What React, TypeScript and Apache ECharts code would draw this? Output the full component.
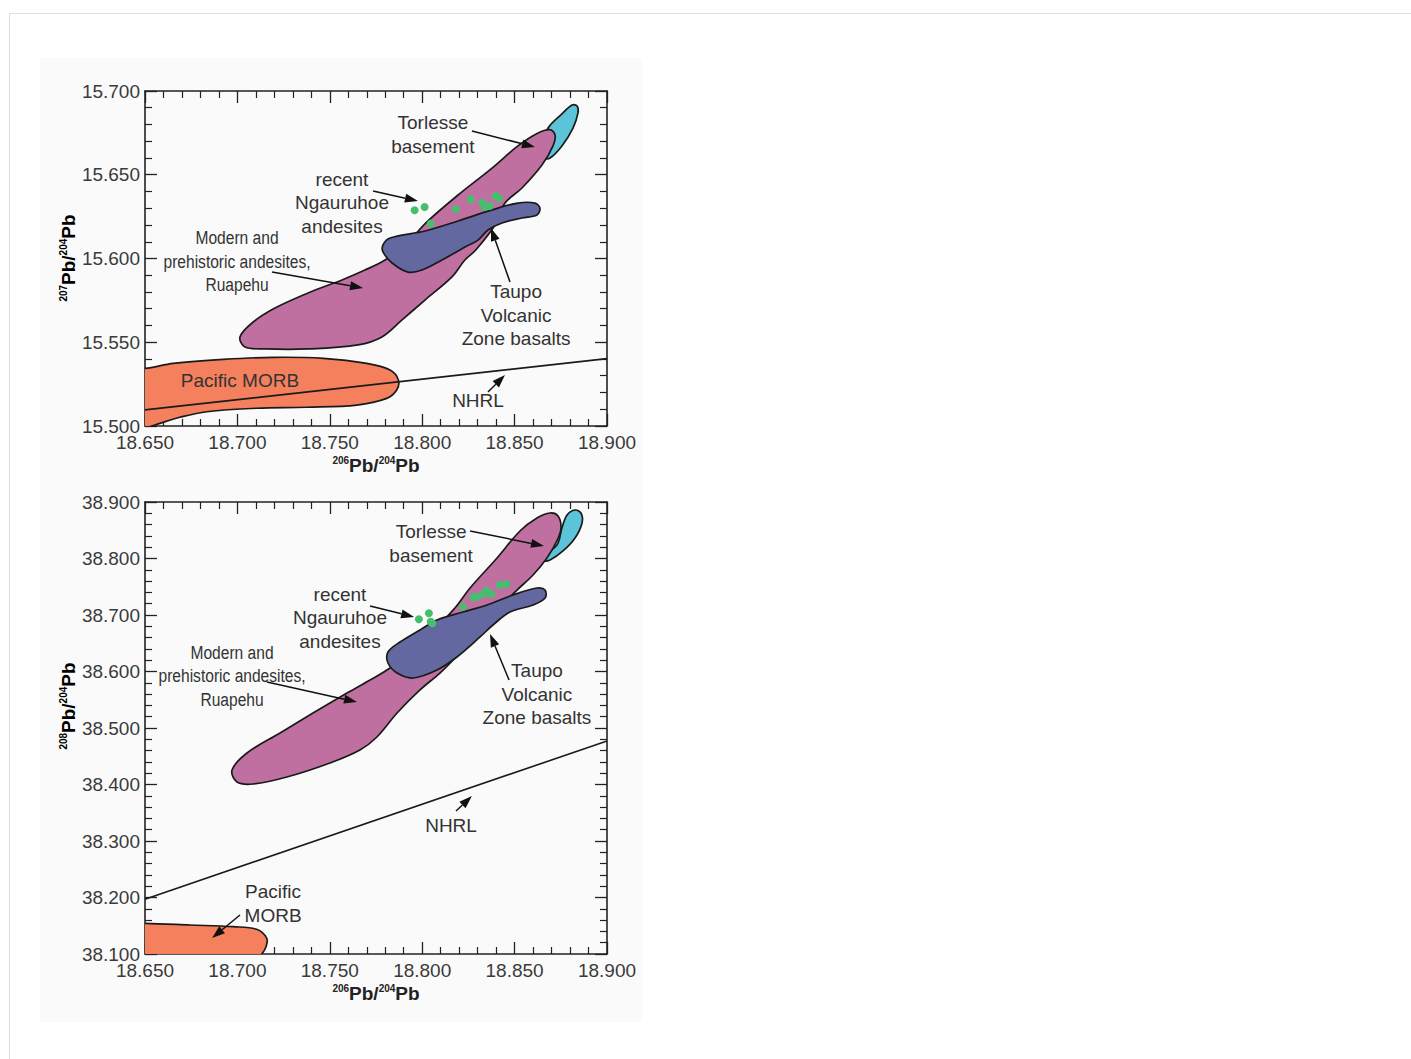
import React, { useEffect, useRef } from "react";
import * as echarts from "echarts";

type P = [number, number];

// ---------- axes ----------
const X_TICKS = [18.65, 18.7, 18.75, 18.8, 18.85, 18.9];
const TOP_Y_TICKS = [15.5, 15.55, 15.6, 15.65, 15.7];
const BOT_Y_TICKS = [38.1, 38.2, 38.3, 38.4, 38.5, 38.6, 38.7, 38.8, 38.9];

// ---------- top panel (207Pb/204Pb) ----------
const topMorb: P[] = [
  [18.64, 15.5346], [18.65, 15.5344], [18.6653, 15.5374], [18.6924, 15.5398], [18.7194, 15.541],
  [18.7465, 15.5404], [18.77, 15.5374], [18.7826, 15.5334], [18.7871, 15.5275], [18.7862, 15.5215],
  [18.7808, 15.5165], [18.7646, 15.5125], [18.7375, 15.5112], [18.7104, 15.5106], [18.6834, 15.5085],
  [18.6689, 15.5052], [18.6581, 15.5016], [18.6527, 15.4996], [18.64, 15.496],
];
const topNhrl: P[] = [[18.65, 15.5096], [18.9, 15.5402]];
const topTorlesse: P[] = [
  [18.8637, 15.6648], [18.8681, 15.6779], [18.8756, 15.6863], [18.8811, 15.6916], [18.8838, 15.691],
  [18.8843, 15.6869], [18.8816, 15.6779], [18.8756, 15.6672], [18.8692, 15.66], [18.8659, 15.66],
];
const topRuapehu: P[] = [
  [18.7014, 15.5531], [18.7079, 15.5615], [18.7203, 15.5704], [18.7382, 15.5794], [18.7566, 15.5872],
  [18.769, 15.5931], [18.7799, 15.5991], [18.7907, 15.6081], [18.8031, 15.6224], [18.8194, 15.6379],
  [18.8378, 15.654], [18.8518, 15.6672], [18.8627, 15.6749], [18.8692, 15.6769], [18.8719, 15.6737],
  [18.8708, 15.6672], [18.8648, 15.6558], [18.854, 15.6421], [18.8448, 15.6331], [18.8394, 15.62],
  [18.829, 15.6051], [18.8231, 15.5991], [18.8161, 15.589], [18.8015, 15.5752], [18.7891, 15.5633],
  [18.7782, 15.5531], [18.7653, 15.5484], [18.7382, 15.546], [18.7149, 15.546], [18.7041, 15.5472],
];
const topTaupo: P[] = [
  [18.7788, 15.6081], [18.7826, 15.6122], [18.8015, 15.6164], [18.8194, 15.6224], [18.8378, 15.629],
  [18.8518, 15.6331], [18.861, 15.6331], [18.8637, 15.6301], [18.8621, 15.626], [18.854, 15.6242],
  [18.8432, 15.6212], [18.8356, 15.617], [18.8302, 15.611], [18.8232, 15.6069], [18.8107, 15.5991],
  [18.7999, 15.5931], [18.7923, 15.5919], [18.7837, 15.5973], [18.7788, 15.6039],
];
const topNgauruhoe: P[] = [
  [18.7959, 15.6288], [18.8013, 15.6307], [18.8046, 15.6208], [18.8181, 15.6294], [18.8262, 15.6353],
  [18.8326, 15.6333], [18.8338, 15.6307], [18.8365, 15.6313], [18.8398, 15.6373], [18.8416, 15.6359],
];
const topLabels = [
  { text: "Torlesse\nbasement", at: [18.8058, 15.674] as P, narrow: false },
  { text: "recent\nNgauruhoe\nandesites", at: [18.7566, 15.6334] as P, narrow: false },
  { text: "Modern and\nprehistoric andesites,\nRuapehu", at: [18.6998, 15.5985] as P, narrow: true },
  { text: "Taupo\nVolcanic\nZone basalts", at: [18.8508, 15.566] as P, narrow: false },
  { text: "Pacific MORB", at: [18.7014, 15.5269] as P, narrow: false },
  { text: "NHRL", at: [18.8302, 15.5155] as P, narrow: false },
];
const topArrows: [P, P][] = [
  [[18.8269, 15.6761], [18.861, 15.6666]],
  [[18.7734, 15.6403], [18.7977, 15.6343]],
  [[18.7187, 15.5919], [18.768, 15.5824]],
  [[18.8475, 15.586], [18.8372, 15.6182]],
  [[18.8356, 15.5203], [18.8448, 15.5304]],
];

// ---------- bottom panel (208Pb/204Pb) ----------
const botMorb: P[] = [
  [18.64, 38.1545], [18.65, 38.1543], [18.6744, 38.1513], [18.6978, 38.1483], [18.7104, 38.1437],
  [18.7159, 38.1278], [18.7155, 38.1129], [18.7132, 38.1], [18.711, 38.095], [18.64, 38.095],
];
const botNhrl: P[] = [[18.65, 38.197], [18.9, 38.477]];
const botTorlesse: P[] = [
  [18.8637, 38.8009], [18.8729, 38.8239], [18.8756, 38.854], [18.8784, 38.877], [18.8827, 38.8858],
  [18.8859, 38.8805], [18.8865, 38.8628], [18.8827, 38.8363], [18.8762, 38.8133], [18.8692, 38.7973],
  [18.8654, 38.7956],
];
const botRuapehu: P[] = [
  [18.6971, 38.4257], [18.7052, 38.4558], [18.7231, 38.4912], [18.7409, 38.5265], [18.7593, 38.5619],
  [18.7718, 38.585], [18.7826, 38.6062], [18.7988, 38.6469], [18.8177, 38.7124], [18.8259, 38.7478],
  [18.8405, 38.8009], [18.8529, 38.8487], [18.8621, 38.8717], [18.8692, 38.8805], [18.8735, 38.8752],
  [18.8751, 38.854], [18.8729, 38.831], [18.8675, 38.8009], [18.86, 38.7708], [18.8513, 38.7442],
  [18.8421, 38.7142], [18.8313, 38.677], [18.8167, 38.6204], [18.8096, 38.5973], [18.7988, 38.5673],
  [18.7864, 38.5265], [18.7755, 38.4841], [18.7663, 38.4611], [18.7501, 38.4381], [18.7268, 38.4133],
  [18.7084, 38.4009], [18.6998, 38.4044],
];
const botTaupo: P[] = [
  [18.7815, 38.6345], [18.788, 38.6522], [18.7988, 38.6735], [18.808, 38.6912], [18.8221, 38.7053],
  [18.8351, 38.7177], [18.8491, 38.7354], [18.8621, 38.7478], [18.8665, 38.7442], [18.8665, 38.7301],
  [18.86, 38.7177], [18.8475, 38.7053], [18.8383, 38.6823], [18.8313, 38.6611], [18.8188, 38.6257],
  [18.808, 38.6027], [18.795, 38.5885], [18.7864, 38.5973], [18.7815, 38.615],
];
const botNgauruhoe: P[] = [
  [18.7982, 38.6924], [18.8036, 38.703], [18.8046, 38.6882], [18.8055, 38.6853], [18.8221, 38.7147],
  [18.8275, 38.7313], [18.8297, 38.7324], [18.8329, 38.7372], [18.8348, 38.743], [18.8375, 38.7372],
  [18.842, 38.7531], [18.8456, 38.7549],
];
const botLabels = [
  { text: "Torlesse\nbasement", at: [18.8048, 38.8265] as P, narrow: false },
  { text: "recent\nNgauruhoe\nandesites", at: [18.7555, 38.6947] as P, narrow: false },
  { text: "Modern and\nprehistoric andesites,\nRuapehu", at: [18.6971, 38.5929] as P, narrow: true },
  { text: "Taupo\nVolcanic\nZone basalts", at: [18.8621, 38.5593] as P, narrow: false },
  { text: "NHRL", at: [18.8156, 38.3283] as P, narrow: false },
  { text: "Pacific\nMORB", at: [18.7193, 38.1894] as P, narrow: false },
];
const botArrows: [P, P][] = [
  [[18.8259, 38.8487], [18.8659, 38.8221]],
  [[18.7718, 38.7159], [18.7956, 38.6965]],
  [[18.716, 38.5814], [18.7647, 38.546]],
  [[18.847, 38.585], [18.8367, 38.6664]],
  [[18.8183, 38.3531], [18.8269, 38.3796]],
  [[18.7014, 38.169], [18.6863, 38.1283]],
];

// ---------- styles ----------
const FONT = "'Liberation Sans', Arial, Helvetica, sans-serif";
const C_MORB = "#f5805e";
const C_RUAP = "#c070a0";
const C_TAUPO = "#6368a0";
const C_TORL = "#5cc4d8";
const C_DOT = "#45bf6e";
const C_INK = "#1a1a1a";
const C_TEXT = "#333333";

const supRich = {
  s: { fontSize: 10, fontWeight: "bold" as const, fontFamily: FONT, color: "#222", lineHeight: 12, verticalAlign: "top" as const },
  b: { fontSize: 19, fontWeight: "bold" as const, fontFamily: FONT, color: "#222", lineHeight: 20 },
};

function xAxesFor(grid: number) {
  const base: any = {
    type: "value",
    gridIndex: grid,
    min: X_TICKS[0],
    max: X_TICKS[X_TICKS.length - 1],
    interval: X_TICKS[1] - X_TICKS[0],
    axisLine: { show: true, onZero: false, lineStyle: { color: "#222", width: 1.6 } },
    axisTick: { show: true, inside: true, length: 12, lineStyle: { color: "#222", width: 1.3 } },
    minorTick: { show: true, splitNumber: 5, length: 7, lineStyle: { color: "#222", width: 1.2 } },
    splitLine: { show: false },
    minorSplitLine: { show: false },
  };
  return [
    {
      ...base,
      position: "bottom",
      name: "{s|206}{b|Pb/}{s|204}{b|Pb}",
      nameLocation: "middle",
      nameGap: 29,
      nameTextStyle: { rich: supRich },
      axisLabel: {
        show: true,
        margin: 7,
        fontSize: 19,
        fontFamily: FONT,
        color: "#3a3a3a",
        showMinLabel: true,
        showMaxLabel: true,
        formatter: (v: number) => v.toFixed(3),
      },
    },
    { ...base, position: "top", axisLabel: { show: false } },
  ];
}

function yAxesFor(grid: number, ticks: number[]) {
  const base: any = {
    type: "value",
    gridIndex: grid,
    min: ticks[0],
    max: ticks[ticks.length - 1],
    interval: Math.round((ticks[1] - ticks[0]) * 1000) / 1000,
    axisLine: { show: true, onZero: false, lineStyle: { color: "#222", width: 1.6 } },
    axisTick: { show: true, inside: true, length: 12, lineStyle: { color: "#222", width: 1.3 } },
    minorTick: { show: true, splitNumber: 5, length: 7, lineStyle: { color: "#222", width: 1.2 } },
    splitLine: { show: false },
    minorSplitLine: { show: false },
  };
  return [
    {
      ...base,
      position: "left",
      axisLabel: {
        show: true,
        margin: 5,
        fontSize: 19,
        fontFamily: FONT,
        color: "#3a3a3a",
        showMinLabel: true,
        showMaxLabel: true,
        formatter: (v: number) => v.toFixed(3),
      },
    },
    { ...base, position: "right", axisLabel: { show: false } },
  ];
}

function polygonSeries(name: string, pts: P[], fill: string, xi: number, yi: number) {
  return {
    type: "custom",
    name,
    coordinateSystem: "cartesian2d",
    xAxisIndex: xi,
    yAxisIndex: yi,
    clip: true,
    silent: true,
    data: [pts[1]],
    renderItem: (_params: any, api: any) => ({
      type: "polygon",
      shape: { points: pts.map((p) => api.coord(p)), smooth: 0.35 },
      style: { fill, stroke: C_INK, lineWidth: 1.7 },
    }),
  };
}

function lineSeries(pts: P[], xi: number, yi: number) {
  return {
    type: "line",
    xAxisIndex: xi,
    yAxisIndex: yi,
    data: pts,
    showSymbol: false,
    silent: true,
    lineStyle: { color: C_INK, width: 1.6 },
  };
}

function dotSeries(pts: P[], xi: number, yi: number) {
  return {
    type: "scatter",
    xAxisIndex: xi,
    yAxisIndex: yi,
    data: pts,
    symbol: "circle",
    symbolSize: 8,
    silent: true,
    itemStyle: { color: C_DOT, opacity: 1 },
  };
}

function labelSeries(labels: { text: string; at: P; narrow: boolean }[], xi: number, yi: number) {
  return {
    type: "custom",
    coordinateSystem: "cartesian2d",
    xAxisIndex: xi,
    yAxisIndex: yi,
    clip: false,
    silent: true,
    data: labels.map((l) => l.at),
    renderItem: (params: any, api: any) => {
      const l = labels[params.dataIndex];
      const c = api.coord(l.at);
      return {
        type: "text",
        x: c[0],
        y: c[1],
        scaleX: l.narrow ? 0.82 : 1,
        style: {
          text: l.text,
          fill: C_TEXT,
          fontSize: 19,
          fontFamily: FONT,
          lineHeight: 23.5,
          align: "center",
          verticalAlign: "middle",
          textAlign: "center",
          textVerticalAlign: "middle",
        },
      };
    },
  };
}

function arrowSeries(arrows: [P, P][], xi: number, yi: number) {
  return {
    type: "custom",
    coordinateSystem: "cartesian2d",
    xAxisIndex: xi,
    yAxisIndex: yi,
    clip: false,
    silent: true,
    data: arrows.map((a) => a[1]),
    renderItem: (params: any, api: any) => {
      const [from, to] = arrows[params.dataIndex];
      const a = api.coord(from);
      const b = api.coord(to);
      const ang = Math.atan2(b[1] - a[1], b[0] - a[0]);
      const L = 13;
      const W = 4.5;
      const cx = b[0] - L * Math.cos(ang);
      const cy = b[1] - L * Math.sin(ang);
      const px = -Math.sin(ang) * W;
      const py = Math.cos(ang) * W;
      return {
        type: "group",
        children: [
          {
            type: "line",
            shape: { x1: a[0], y1: a[1], x2: cx, y2: cy },
            style: { stroke: "#111", lineWidth: 1.5 },
          },
          {
            type: "polygon",
            shape: { points: [[b[0], b[1]], [cx + px, cy + py], [cx - px, cy - py]] },
            style: { fill: "#111" },
          },
        ],
      };
    },
  };
}

export default function App() {
  const ref = useRef<HTMLDivElement>(null);

  useEffect(() => {
    if (!ref.current) return;
    const chart = echarts.init(ref.current, undefined, { renderer: "svg" });
    const option: any = {
      animation: false,
      backgroundColor: "#ffffff",
      grid: [
        { left: 145, top: 91, width: 462, height: 335 },
        { left: 145, top: 502, width: 462, height: 452 },
      ],
      xAxis: [...xAxesFor(0), ...xAxesFor(1)],
      yAxis: [...yAxesFor(0, TOP_Y_TICKS), ...yAxesFor(1, BOT_Y_TICKS)],
      graphic: [
        { type: "rect", z: -10, silent: true, shape: { x: 40, y: 58, width: 602, height: 964 }, style: { fill: "#fafafa" } },
        { type: "line", z: -10, silent: true, shape: { x1: 9.5, y1: 13.5, x2: 1411, y2: 13.5 }, style: { stroke: "#dedede", lineWidth: 1 } },
        { type: "line", z: -10, silent: true, shape: { x1: 9.5, y1: 13.5, x2: 9.5, y2: 1059 }, style: { stroke: "#dedede", lineWidth: 1 } },
        {
          type: "text",
          x: 68,
          y: 258,
          rotation: Math.PI / 2,
          silent: true,
          style: { text: "{s|207}{b|Pb/}{s|204}{b|Pb}", rich: supRich, align: "center", verticalAlign: "middle" },
        },
        {
          type: "text",
          x: 68,
          y: 706,
          rotation: Math.PI / 2,
          silent: true,
          style: { text: "{s|208}{b|Pb/}{s|204}{b|Pb}", rich: supRich, align: "center", verticalAlign: "middle" },
        },
      ],
      series: [
        // top panel: xAxis 0, yAxis 0
        polygonSeries("Pacific MORB", topMorb, C_MORB, 0, 0),
        lineSeries(topNhrl, 0, 0),
        polygonSeries("Torlesse basement", topTorlesse, C_TORL, 0, 0),
        polygonSeries("Ruapehu", topRuapehu, C_RUAP, 0, 0),
        polygonSeries("Taupo Volcanic Zone basalts", topTaupo, C_TAUPO, 0, 0),
        dotSeries(topNgauruhoe, 0, 0),
        arrowSeries(topArrows, 0, 0),
        labelSeries(topLabels, 0, 0),
        // bottom panel: xAxis 2, yAxis 2
        polygonSeries("Pacific MORB", botMorb, C_MORB, 2, 2),
        lineSeries(botNhrl, 2, 2),
        polygonSeries("Torlesse basement", botTorlesse, C_TORL, 2, 2),
        polygonSeries("Ruapehu", botRuapehu, C_RUAP, 2, 2),
        polygonSeries("Taupo Volcanic Zone basalts", botTaupo, C_TAUPO, 2, 2),
        dotSeries(botNgauruhoe, 2, 2),
        arrowSeries(botArrows, 2, 2),
        labelSeries(botLabels, 2, 2),
      ],
    };
    chart.setOption(option);
    return () => chart.dispose();
  }, []);

  return <div ref={ref} style={{ position: "absolute", left: 0, top: 0, width: 1411, height: 1059 }} />;
}
